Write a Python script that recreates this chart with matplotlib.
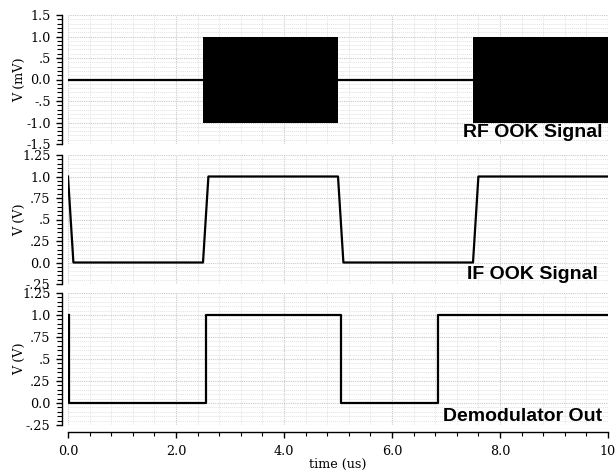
"""
plot.py
three stacked transient traces: RF OOK burst, IF OOK envelope, demodulator output
"""

import matplotlib
matplotlib.use("Agg")
import matplotlib.pyplot as plt
from matplotlib.ticker import MultipleLocator, FixedLocator, FixedFormatter

# ---- data ------------------------------------------------------------------
# RF: carrier bursts drawn as their +-amplitude envelope
rf_idle_t = [[0.0, 2.5], [5.0, 7.5]]
rf_burst_t = [[2.5, 5.0], [7.5, 10.0]]
rf_amp = 1.0

if_t = [0.0, 0.1, 2.5, 2.6, 5.0, 5.1, 7.5, 7.6, 10.0]
if_v = [1.0, 0.0, 0.0, 1.0, 1.0, 0.0, 0.0, 1.0, 1.0]

demod_t = [0.01, 0.01, 2.55, 2.55, 5.05, 5.05, 6.85, 6.85, 10.0]
demod_v = [1.0, 0.0, 0.0, 1.0, 1.0, 0.0, 0.0, 1.0, 1.0]

x_ticks = [0, 2, 4, 6, 8, 10]
x_labels = ["0.0", "2.0", "4.0", "6.0", "8.0", "10"]
rf_yticks = [1.5, 1.0, 0.5, 0.0, -0.5, -1.0, -1.5]
rf_ylabels = ["1.5", "1.0", ".5", "0.0", "-.5", "-1.0", "-1.5"]
v_yticks = [1.25, 1.0, 0.75, 0.5, 0.25, 0.0, -0.25]
v_ylabels = ["1.25", "1.0", ".75", ".5", ".25", "0.0", "-.25"]

SERIF = "DejaVu Serif"
SANS = "Liberation Sans"
FS = 9.2
W, H = 616, 470


def frac(px_left, px_top, px_right, px_bottom):
    return [px_left / W, 1 - px_bottom / H, (px_right - px_left) / W,
            (px_bottom - px_top) / H]


def style(ax, yticks, ylabels, yminor, ylim, ylabel):
    ax.set_xlim(0, 10)
    ax.set_ylim(*ylim)
    for s in ("top", "right", "bottom"):
        ax.spines[s].set_visible(False)
    ax.spines["left"].set_linewidth(1.0)
    ax.spines["left"].set_position(("outward", 4))
    ax.yaxis.set_major_locator(FixedLocator(yticks))
    ax.yaxis.set_major_formatter(FixedFormatter(ylabels))
    ax.yaxis.set_minor_locator(MultipleLocator(yminor))
    ax.xaxis.set_major_locator(MultipleLocator(2.0))
    ax.xaxis.set_minor_locator(MultipleLocator(0.4))
    ax.tick_params(axis="y", which="major", length=4.5, width=1, pad=4,
                   labelsize=FS, direction="out")
    ax.tick_params(axis="y", which="minor", length=3.5, width=0.8, direction="out")
    for lab in ax.get_yticklabels():
        lab.set_family(SERIF)
    ax.grid(True, which="major", color="#c8c8c8", linestyle=(0, (1, 1)), linewidth=0.8)
    ax.grid(True, which="minor", color="#e2e2e2", linestyle=(0, (1, 1)), linewidth=0.7)
    ax.set_ylabel(ylabel, family=SERIF, fontsize=FS, va="center")
    ax.yaxis.set_label_coords(-0.09, 0.5)
    ax.set_axisbelow(True)


fig = plt.figure(figsize=(W / 100, H / 100), dpi=100)
ax1 = fig.add_axes(frac(68, 15, 608, 144))
ax2 = fig.add_axes(frac(68, 155, 608, 284))
ax3 = fig.add_axes(frac(68, 293, 608, 425))

# ---- RF OOK ------------------------------------------------------------------
style(ax1, rf_yticks, rf_ylabels, 0.1, (-1.5, 1.5), "V (mV)")
for t0, t1 in rf_idle_t:
    ax1.plot([t0, t1], [0, 0], color="black", lw=1.6)
for t0, t1 in rf_burst_t:
    ax1.fill_between([t0, t1], [-rf_amp, -rf_amp], [rf_amp, rf_amp],
                     color="black", lw=0)
ax1.text(0.99, 0.054, "RF OOK Signal", transform=ax1.transAxes, ha="right",
         va="baseline", family=SANS, fontweight="bold", fontsize=14)

# ---- IF OOK ------------------------------------------------------------------
style(ax2, v_yticks, v_ylabels, 0.05, (-0.25, 1.25), "V (V)")
ax2.plot(if_t, if_v, color="black", lw=1.6)
ax2.text(0.982, 0.04, "IF OOK Signal", transform=ax2.transAxes, ha="right",
         va="baseline", family=SANS, fontweight="bold", fontsize=14)

# ---- Demodulator -------------------------------------------------------------
style(ax3, v_yticks, v_ylabels, 0.05, (-0.25, 1.25), "V (V)")
ax3.plot(demod_t, demod_v, color="black", lw=1.6)
ax3.text(0.99, 0.03, "Demodulator Out", transform=ax3.transAxes, ha="right",
         va="baseline", family=SANS, fontweight="bold", fontsize=14)

for ax in (ax1, ax2):
    ax.tick_params(axis="x", which="both", bottom=False, labelbottom=False)

ax3.spines["bottom"].set_visible(True)
ax3.spines["bottom"].set_position(("outward", 5))
ax3.spines["bottom"].set_linewidth(1.0)
ax3.xaxis.set_major_locator(FixedLocator(x_ticks))
ax3.xaxis.set_major_formatter(FixedFormatter(x_labels))
ax3.tick_params(axis="x", which="major", length=4.5, width=1, pad=5,
                labelsize=FS, direction="out")
ax3.tick_params(axis="x", which="minor", length=3, width=0.8, direction="out")
for lab in ax3.get_xticklabels():
    lab.set_family(SERIF)
ax3.set_xlabel("time (us)", family=SERIF, fontsize=FS, labelpad=0)

fig.savefig("out.png", dpi=100)
